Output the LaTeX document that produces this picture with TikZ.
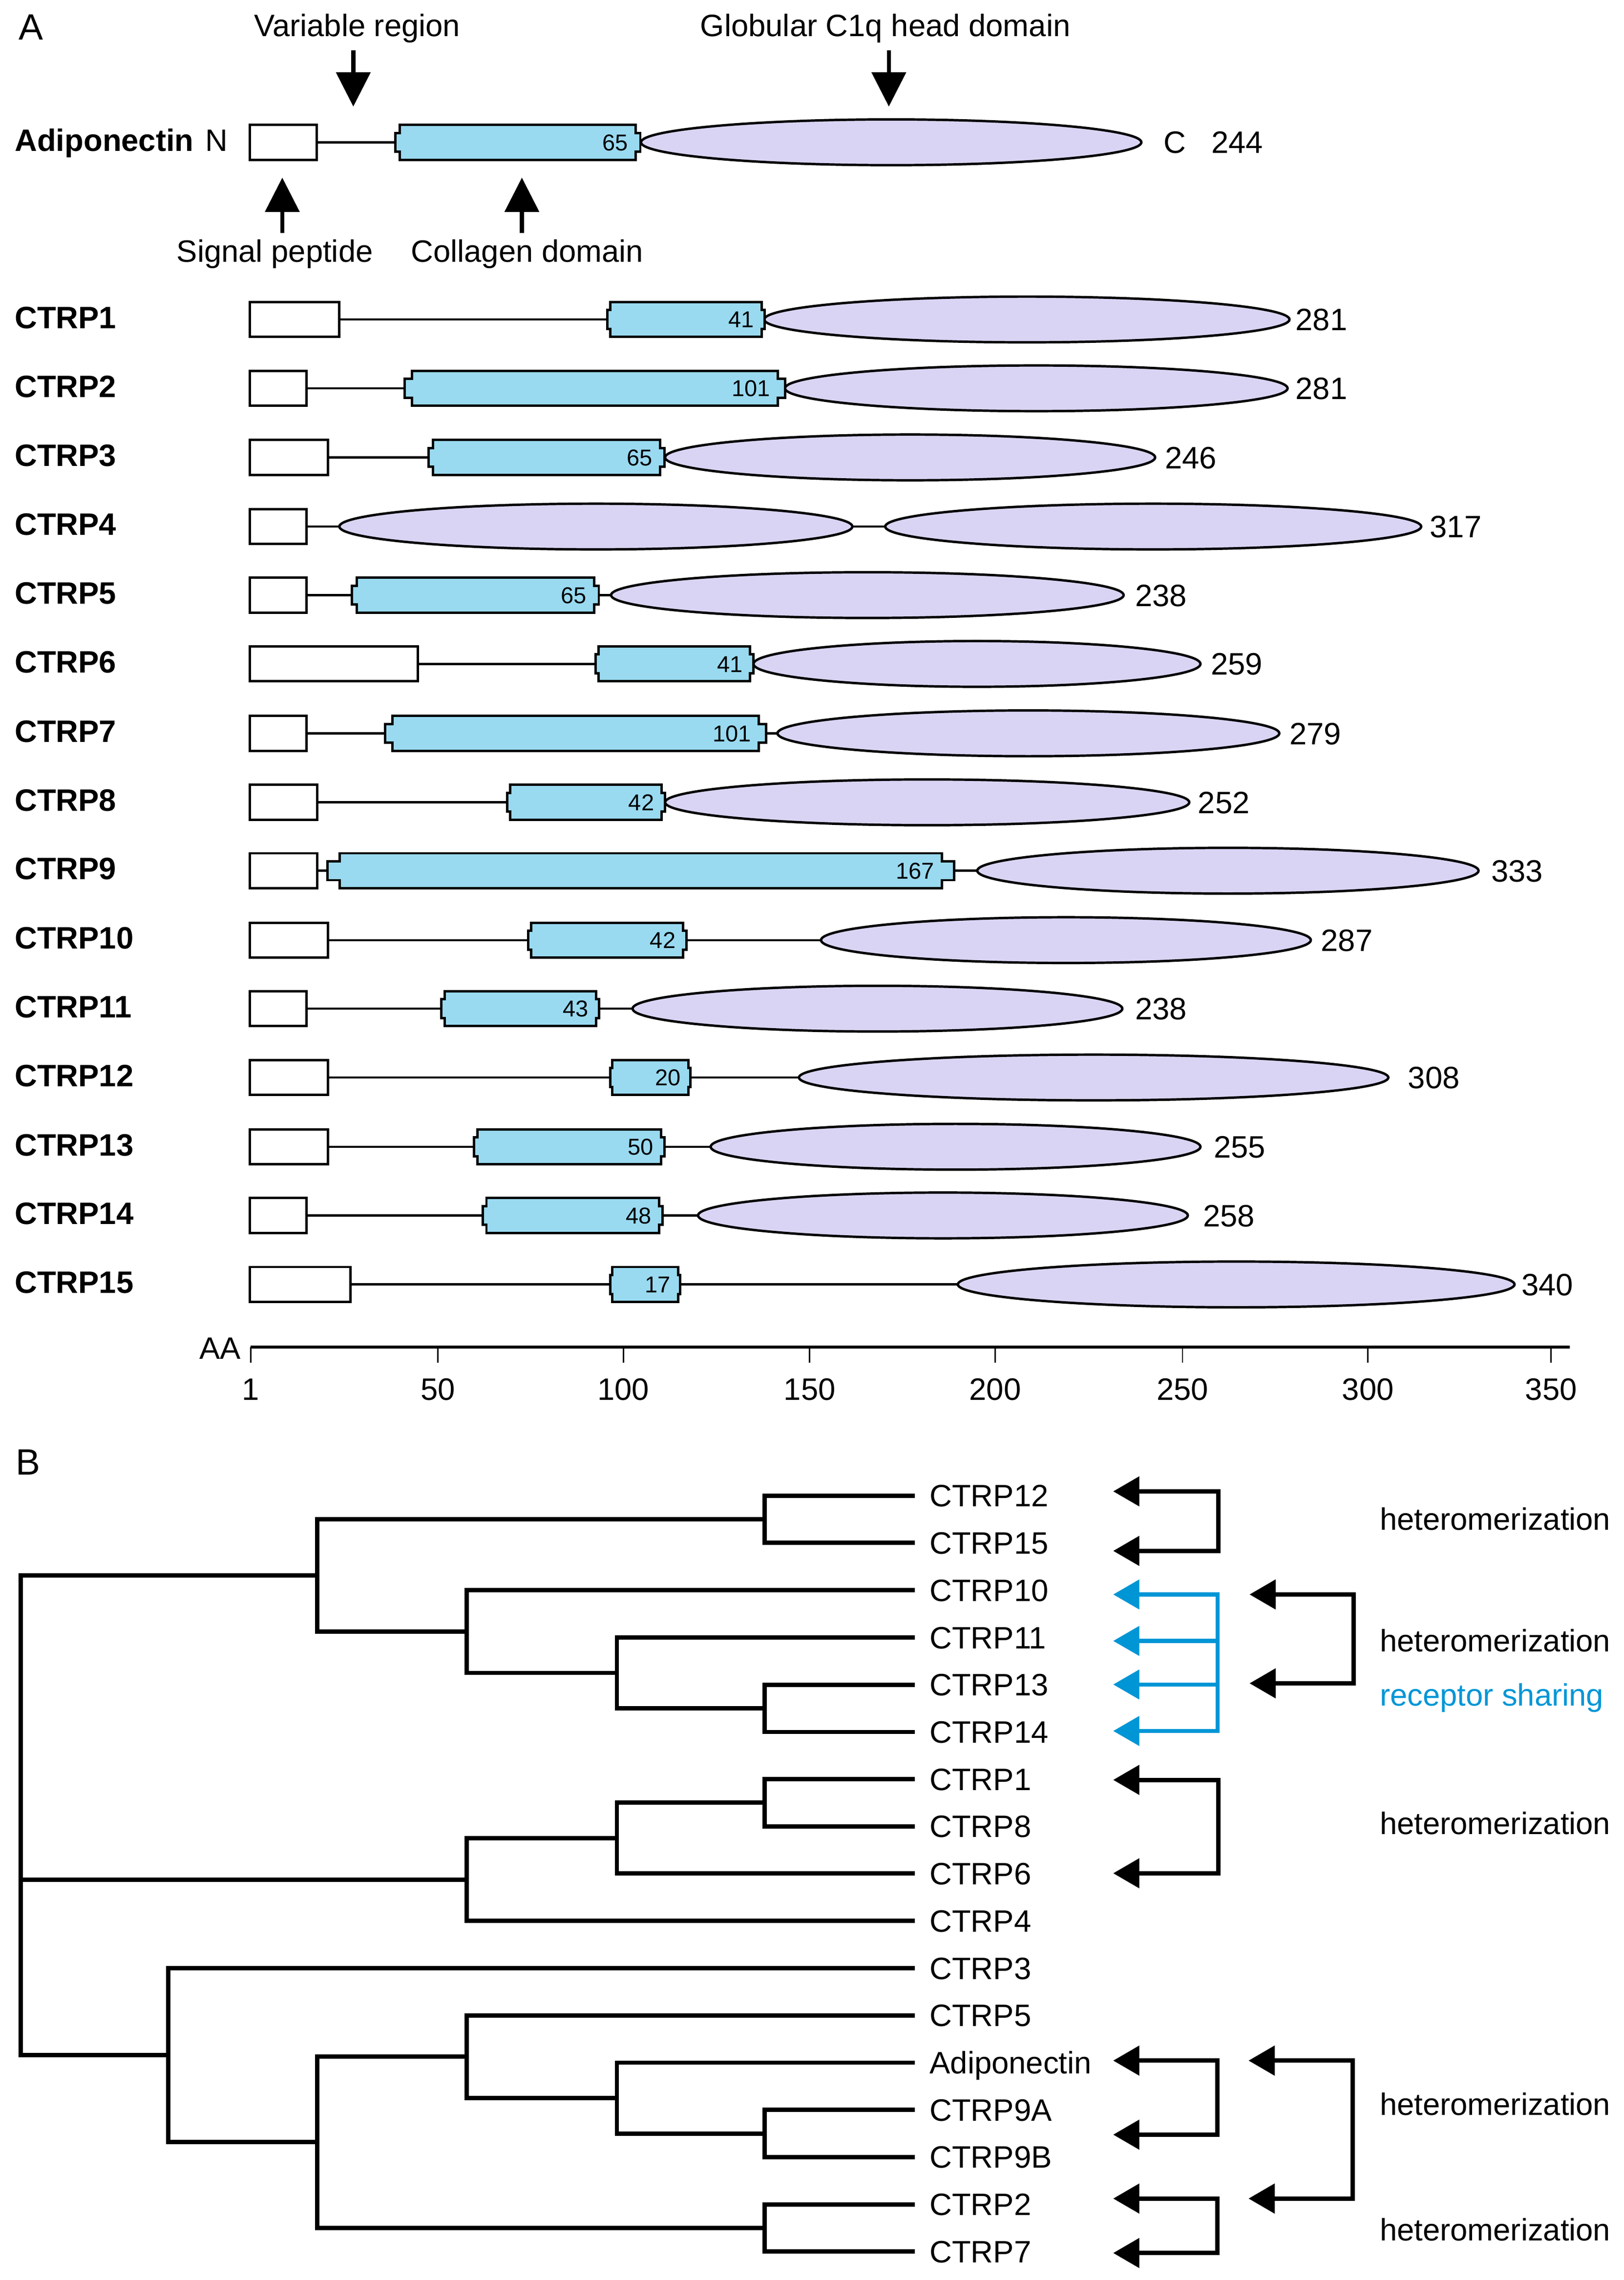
\documentclass[tikz,border=0pt]{standalone}
\usepackage{fontspec}
\setmainfont{Liberation Sans}
\usepackage{tikz}
\usetikzlibrary{shapes.geometric,arrows.meta}

\definecolor{colfill}{RGB}{153,218,241}
\definecolor{globfill}{RGB}{218,212,244}
\definecolor{sharecol}{RGB}{0,150,214}

\newcommand{\unitpx}{0.3mm}
\newcommand{\fmain}{\fontsize{18.2}{22}\selectfont}
\newcommand{\fnum}{\fontsize{13.5}{16}\selectfont}
\newcommand{\fpanel}{\fontsize{21.5}{26}\selectfont}

% collagen domain: name, left, right, row y, length
\newcommand{\collagen}[5]{%
  \pgfmathsetmacro{\colstep}{max(1.5,0.02*(#3-#2))}
  \draw[colbox] (#2,#4-12) -- (#3,#4-12) -- (#3,#4-6.5) -- ({#3+\colstep},#4-6.5)
    -- ({#3+\colstep},#4+6.5) -- (#3,#4+6.5) -- (#3,#4+12) -- (#2,#4+12)
    -- (#2,#4+6.5) -- ({#2-\colstep},#4+6.5) -- ({#2-\colstep},#4-6.5) -- (#2,#4-6.5) -- cycle;
  \node[colnum, anchor=east] (#1) at ({#3-5},#4) {#5};
}

\begin{document}
\begin{tikzpicture}[x=\unitpx, y=-\unitpx,
		txt/.style={inner sep=0pt, text height=13pt, text depth=0pt, font=\fmain},
		rowname/.style={txt, anchor=west, font=\fmain\bfseries},
		panel/.style={inner sep=0pt, text height=15.4pt, text depth=0pt, font=\fpanel},
		colnum/.style={inner sep=0pt, text height=9.7pt, text depth=0pt, font=\fnum},
		sigpep/.style={rectangle, draw, fill=white, line width=0.5mm, minimum height=24*\unitpx, inner sep=0pt, outer sep=0pt, anchor=west},
		globdom/.style={ellipse, draw, fill=globfill, line width=0.5mm, minimum height=31.5*\unitpx, inner sep=0pt, outer sep=0pt, anchor=west},
		colbox/.style={draw, fill=colfill, line width=0.5mm},
		link/.style={line width=0.45mm},
		callout/.style={line width=0.85mm, arrows={-Triangle[length=7.1mm,width=7mm]}},
		axisline/.style={line width=0.65mm},
		tick/.style={line width=0.3mm},
		leaf/.style={txt, anchor=west, inner xsep=10*\unitpx},
		branch/.style={line width=0.9mm, line join=miter},
		hetero/.style={line width=0.9mm, arrows={Triangle[length=5.4mm,width=6mm]-Triangle[length=5.4mm,width=6mm]}},
		sharepair/.style={line width=0.85mm, draw=sharecol, arrows={Triangle[length=5.4mm,width=6mm]-Triangle[length=5.4mm,width=6mm]}},
		sharearrow/.style={line width=0.85mm, draw=sharecol, arrows={-Triangle[length=5.4mm,width=6mm]}},
	]
	\useasboundingbox (0,0) rectangle (1118.1,1570.1);

	% ---------- panel A ----------
	\node[panel] (pA) at (21.3,18.5) {A};

	% callouts
	\node[txt] (tVar) at (246,17.4) {Variable region};
	\node[txt] (tGlob) at (609.7,17.4) {Globular C1q head domain};
	\node[txt] (tSig) at (189.3,172.8) {Signal peptide};
	\node[txt] (tCol) at (363,172.8) {Collagen domain};
	\coordinate (varTail) at (243.3,34.8);   \coordinate (varTip) at (243.3,73.4);
	\coordinate (globTail) at (612.1,34.8);  \coordinate (globTip) at (612.1,73.4);
	\coordinate (sigTail) at (194.4,160.3);  \coordinate (sigTip) at (194.4,122.3);
	\coordinate (colTail) at (359.4,160.3);  \coordinate (colTip) at (359.4,122.3);
	\draw[callout] (varTail) -- (varTip);
	\draw[callout] (globTail) -- (globTip);
	\draw[callout] (sigTail) -- (sigTip);
	\draw[callout] (colTail) -- (colTip);

	% Adiponectin
	\node[rowname] (r0) at (10,96.5) {Adiponectin};
	\node[txt] (nN) at (149.2,96.5) {N};
	\node[sigpep, minimum width=46*\unitpx] (s0) at (172.2,98) {};
	\node[globdom, minimum width=344.6*\unitpx] (g0) at (441.4,98) {};
	\draw[link] (s0.east) -- (g0.west);
	\collagen{c0}{275.4}{437.7}{98}{65}
	\node[txt] (nC) at (809,98) {C};
	\node[txt, anchor=west] (e0) at (834,98) {244};

	% CTRP1
	\node[rowname] (r1) at (10,218.5) {CTRP1};
	\node[sigpep, minimum width=61.7*\unitpx] (s1) at (172,220) {};
	\node[globdom, minimum width=361.7*\unitpx] (g1) at (526.3,220) {};
	\draw[link] (s1.east) -- (g1.west);
	\collagen{c1}{420.3}{524.6}{220}{41}
	\node[txt, anchor=west] (e1) at (892,220) {281};

	% CTRP2
	\node[rowname] (r2) at (10,266) {CTRP2};
	\node[sigpep, minimum width=38.9*\unitpx] (s2) at (172,267.4) {};
	\node[globdom, minimum width=346.1*\unitpx] (g2) at (540.6,267.4) {};
	\draw[link] (s2.east) -- (g2.west);
	\collagen{c2}{283.6}{535.6}{267.4}{101}
	\node[txt, anchor=west] (e2) at (892,267.4) {281};

	% CTRP3
	\node[rowname] (r3) at (10,313.5) {CTRP3};
	\node[sigpep, minimum width=53.9*\unitpx] (s3) at (172,315) {};
	\node[globdom, minimum width=337.5*\unitpx] (g3) at (458,315) {};
	\draw[link] (s3.east) -- (g3.west);
	\collagen{c3}{298.3}{454.6}{315}{65}
	\node[txt, anchor=west] (e3) at (802,315) {246};

	% CTRP4
	\node[rowname] (r4) at (10,361) {CTRP4};
	\node[sigpep, minimum width=38.9*\unitpx] (s4) at (172,362.6) {};
	\node[globdom, minimum width=353.3*\unitpx] (g4a) at (233.7,362.6) {};
	\node[globdom, minimum width=369.1*\unitpx] (g4b) at (609.6,362.6) {};
	\draw[link] (s4.east) -- (g4a.west);
	\draw[link] (g4a.east) -- (g4b.west);
	\node[txt, anchor=west] (e4) at (984.5,362.6) {317};

	% CTRP5
	\node[rowname] (r5) at (10,408.3) {CTRP5};
	\node[sigpep, minimum width=38.9*\unitpx] (s5) at (172,409.8) {};
	\node[globdom, minimum width=353*\unitpx] (g5) at (420.8,409.8) {};
	\draw[link] (s5.east) -- (g5.west);
	\collagen{c5}{245.7}{409.1}{409.8}{65}
	\node[txt, anchor=west] (e5) at (781.5,409.8) {238};

	% CTRP6
	\node[rowname] (r6) at (10,455.7) {CTRP6};
	\node[sigpep, minimum width=115.6*\unitpx] (s6) at (172,457.2) {};
	\node[globdom, minimum width=307.8*\unitpx] (g6) at (518.9,457.2) {};
	\draw[link] (s6.east) -- (g6.west);
	\collagen{c6}{412.3}{516.6}{457.2}{41}
	\node[txt, anchor=west] (e6) at (833.6,457.2) {259};

	% CTRP7
	\node[rowname] (r7) at (10,503.5) {CTRP7};
	\node[sigpep, minimum width=38.9*\unitpx] (s7) at (172,505) {};
	\node[globdom, minimum width=345.6*\unitpx] (g7) at (535.4,505) {};
	\draw[link] (s7.east) -- (g7.west);
	\collagen{c7}{270.2}{522.5}{505}{101}
	\node[txt, anchor=west] (e7) at (887.8,505) {279};

	% CTRP8
	\node[rowname] (r8) at (10,551) {CTRP8};
	\node[sigpep, minimum width=46.4*\unitpx] (s8) at (172,552.5) {};
	\node[globdom, minimum width=361*\unitpx] (g8) at (458,552.5) {};
	\draw[link] (s8.east) -- (g8.west);
	\collagen{c8}{351.4}{455.7}{552.5}{42}
	\node[txt, anchor=west] (e8) at (824.8,552.5) {252};

	% CTRP9
	\node[rowname] (r9) at (10,598.1) {CTRP9};
	\node[sigpep, minimum width=46.4*\unitpx] (s9) at (172,599.6) {};
	\node[globdom, minimum width=345.2*\unitpx] (g9) at (673,599.6) {};
	\draw[link] (s9.east) -- (g9.west);
	\collagen{c9}{233.9}{648.7}{599.6}{167}
	\node[txt, anchor=west] (e9) at (1026.7,599.6) {333};

	% CTRP10
	\node[rowname] (r10) at (10,645.9) {CTRP10};
	\node[sigpep, minimum width=53.9*\unitpx] (s10) at (172,647.4) {};
	\node[globdom, minimum width=337.3*\unitpx] (g10) at (565.4,647.4) {};
	\draw[link] (s10.east) -- (g10.west);
	\collagen{c10}{365.9}{470.5}{647.4}{42}
	\node[txt, anchor=west] (e10) at (909.5,647.4) {287};

	% CTRP11
	\node[rowname] (r11) at (10,693.1) {CTRP11};
	\node[sigpep, minimum width=38.9*\unitpx] (s11) at (172,694.6) {};
	\node[globdom, minimum width=337.3*\unitpx] (g11) at (435.6,694.6) {};
	\draw[link] (s11.east) -- (g11.west);
	\collagen{c11}{306.1}{410.4}{694.6}{43}
	\node[txt, anchor=west] (e11) at (781.5,694.6) {238};

	% CTRP12
	\node[rowname] (r12) at (10,740.5) {CTRP12};
	\node[sigpep, minimum width=53.9*\unitpx] (s12) at (172,742) {};
	\node[globdom, minimum width=405.9*\unitpx] (g12) at (550.2,742) {};
	\draw[link] (s12.east) -- (g12.west);
	\collagen{c12}{421.7}{474}{742}{20}
	\node[txt, anchor=west] (e12) at (969.4,742) {308};

	% CTRP13
	\node[rowname] (r13) at (10,788.2) {CTRP13};
	\node[sigpep, minimum width=53.9*\unitpx] (s13) at (172,789.7) {};
	\node[globdom, minimum width=337.3*\unitpx] (g13) at (489.4,789.7) {};
	\draw[link] (s13.east) -- (g13.west);
	\collagen{c13}{328.9}{455.2}{789.7}{50}
	\node[txt, anchor=west] (e13) at (835.7,789.7) {255};

	% CTRP14
	\node[rowname] (r14) at (10,835.5) {CTRP14};
	\node[sigpep, minimum width=38.9*\unitpx] (s14) at (172,837) {};
	\node[globdom, minimum width=337.3*\unitpx] (g14) at (480.7,837) {};
	\draw[link] (s14.east) -- (g14.west);
	\collagen{c14}{335}{453.8}{837}{48}
	\node[txt, anchor=west] (e14) at (828.3,837) {258};

	% CTRP15
	\node[rowname] (r15) at (10,883) {CTRP15};
	\node[sigpep, minimum width=69.2*\unitpx] (s15) at (172,884.5) {};
	\node[globdom, minimum width=383.4*\unitpx] (g15) at (659.6,884.5) {};
	\draw[link] (s15.east) -- (g15.west);
	\collagen{c15}{421.7}{467}{884.5}{17}
	\node[txt, anchor=west] (e15) at (1047.6,884.5) {340};

	% axis
	\node[txt, anchor=east] (tAA) at (166,928.4) {AA};
	\coordinate (axL) at (172.6,927.6);
	\coordinate (axR) at (1081,927.6);
	\draw[axisline] (axL) -- (axR);
	\foreach \aa/\tx in {1/172.6, 50/301.6, 100/429.3, 150/557.6, 200/685.3, 250/814.3, 300/942, 350/1068.2} {
		\draw[tick] (\tx,927.6) -- (\tx,938.4);
		\node[txt] (ax\aa) at (\tx,956.4) {\aa};
	}

	% ---------- panel B ----------
	\node[panel] (pB) at (19.3,1006.5) {B};

	% leaves
	\node[leaf] (l12) at (630,1030.0) {CTRP12};
	\node[leaf] (l15) at (630,1062.5) {CTRP15};
	\node[leaf] (l10) at (630,1095.1) {CTRP10};
	\node[leaf] (l11) at (630,1127.6) {CTRP11};
	\node[leaf] (l13) at (630,1160.1) {CTRP13};
	\node[leaf] (l14) at (630,1192.7) {CTRP14};
	\node[leaf] (l1)  at (630,1225.2) {CTRP1};
	\node[leaf] (l8)  at (630,1257.7) {CTRP8};
	\node[leaf] (l6)  at (630,1290.2) {CTRP6};
	\node[leaf] (l4)  at (630,1322.8) {CTRP4};
	\node[leaf] (l3)  at (630,1355.3) {CTRP3};
	\node[leaf] (l5)  at (630,1387.8) {CTRP5};
	\node[leaf] (lAdipo) at (630,1420.4) {Adiponectin};
	\node[leaf] (l9a) at (630,1452.9) {CTRP9A};
	\node[leaf] (l9b) at (630,1485.4) {CTRP9B};
	\node[leaf] (l2)  at (630,1518.0) {CTRP2};
	\node[leaf] (l7)  at (630,1550.5) {CTRP7};

	% inner nodes
	\coordinate (t1215) at (526.4,1046.3);
	\coordinate (t1314) at (526.4,1176.4);
	\coordinate (tE) at (424.8,1152.0);
	\coordinate (tD) at (321.3,1123.5);
	\coordinate (tA) at (218.6,1084.9);
	\coordinate (t18) at (526.4,1241.4);
	\coordinate (tF) at (424.8,1265.8);
	\coordinate (tB) at (321.3,1294.3);
	\coordinate (t9) at (526.4,1469.2);
	\coordinate (tI) at (424.8,1444.8);
	\coordinate (tH) at (321.3,1416.3);
	\coordinate (t27) at (526.4,1534.2);
	\coordinate (tG) at (218.6,1475.2);
	\coordinate (tC) at (115.9,1415.3);
	\coordinate (troot) at (14.3,1294.3);

	% branches
	\draw[branch] (l12.west) -| (t1215) |- (l15.west);
	\draw[branch] (l13.west) -| (t1314) |- (l14.west);
	\draw[branch] (l11.west) -| (tE) |- (t1314);
	\draw[branch] (l10.west) -| (tD) |- (tE);
	\draw[branch] (t1215) -| (tA) |- (tD);
	\draw[branch] (l1.west) -| (t18) |- (l8.west);
	\draw[branch] (t18) -| (tF) |- (l6.west);
	\draw[branch] (tF) -| (tB) |- (l4.west);
	\draw[branch] (l9a.west) -| (t9) |- (l9b.west);
	\draw[branch] (lAdipo.west) -| (tI) |- (t9);
	\draw[branch] (l5.west) -| (tH) |- (tI);
	\draw[branch] (l2.west) -| (t27) |- (l7.west);
	\draw[branch] (tH) -| (tG) |- (t27);
	\draw[branch] (l3.west) -| (tC) |- (tG);
	\draw[branch] (tA) -| (troot) |- (tC);
	\draw[branch] (troot) -- (tB);

	% interaction arrows
	\coordinate (a12) at (766.6,1027);   \coordinate (a15) at (766.6,1068);   \coordinate (k1215) at (839,1047);
	\coordinate (b10) at (766.6,1098);   \coordinate (b11) at (766.6,1130);
	\coordinate (b13) at (766.6,1160);   \coordinate (b14) at (766.6,1192);   \coordinate (kb) at (838.5,1145);
	\coordinate (c10) at (860.5,1098);   \coordinate (c13) at (860.5,1159.2); \coordinate (k1013) at (932.3,1128);
	\coordinate (a1) at (766.6,1225.7);  \coordinate (a6) at (766.6,1290);    \coordinate (k16) at (839,1258);
	\coordinate (a0) at (766.6,1419);    \coordinate (a9) at (766.6,1470);    \coordinate (k09) at (838.5,1444);
	\coordinate (c0) at (859.8,1419);    \coordinate (c2) at (859.8,1514);    \coordinate (k02) at (931.6,1466);
	\coordinate (a2) at (766.6,1514);    \coordinate (a7) at (766.6,1551.5);  \coordinate (k27) at (838.5,1532);

	\draw[hetero] (a12) -| (k1215) |- (a15);
	\draw[sharepair] (b10) -| (kb) |- (b14);
	\draw[sharearrow] (b11 -| kb) -- (b11);
	\draw[sharearrow] (b13 -| kb) -- (b13);
	\draw[hetero] (c10) -| (k1013) |- (c13);
	\draw[hetero] (a1) -| (k16) |- (a6);
	\draw[hetero] (a0) -| (k09) |- (a9);
	\draw[hetero] (c0) -| (k02) |- (c2);
	\draw[hetero] (a2) -| (k27) |- (a7);

	% labels
	\node[txt, anchor=west] (h1) at (950,1046) {heteromerization};
	\node[txt, anchor=west] (h2) at (950,1129.9) {heteromerization};
	\node[txt, anchor=west, text=sharecol] (h3) at (950,1167) {receptor sharing};
	\node[txt, anchor=west] (h4) at (950,1255.7) {heteromerization};
	\node[txt, anchor=west] (h5) at (950,1449) {heteromerization};
	\node[txt, anchor=west] (h6) at (950,1535.4) {heteromerization};

\end{tikzpicture}
\end{document}
